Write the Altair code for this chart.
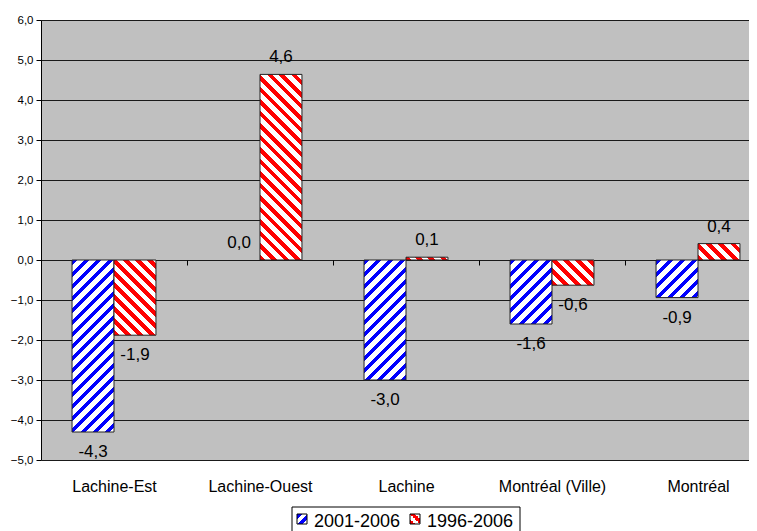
import altair as alt
import pandas as pd

categories = ["Lachine-Est", "Lachine-Ouest", "Lachine", "Montréal (Ville)", "Montréal"]
series = ["2001-2006", "1996-2006"]
values_2001_2006 = [-4.3, 0.0, -3.0, -1.6, -0.94]
values_1996_2006 = [-1.88, 4.64, 0.07, -0.63, 0.41]
y_ticks = [-5, -4, -3, -2, -1, 0, 1, 2, 3, 4, 5, 6]
series_colors = ["#0000FF", "#FF0000"]

# geometry (pixels)
PLOT_W, PLOT_H = 708, 440
X_RANGE = 730
Y_MIN, Y_MAX = -5, 6
PX_PER_UNIT = PLOT_H / (Y_MAX - Y_MIN)
OFF_PAD = 0.74
BAR_W = (X_RANGE / len(categories)) / (2 + 2 * OFF_PAD)

rows = []
for i, c in enumerate(categories):
    for s, vals in zip(series, [values_2001_2006, values_1996_2006]):
        v = vals[i]
        rows.append({"cat": c, "series": s, "v": v,
                     "label": f"{v:.1f}".replace(".", ",")})
df = pd.DataFrame(rows)


def stripes(color, w, h, up, period=12.0, frac=0.45):
    L = w + h
    n = L / period
    a = L * w / (w * w + h * h)
    b = L * h / (w * w + h * h)
    stops = []
    k = 0
    while k < n:
        o1 = round(k / n, 5)
        o2 = round(min((k + frac) / n, 1.0), 5)
        o3 = round(min((k + 1) / n, 1.0), 5)
        stops += [alt.GradientStop(offset=o1, color=color),
                  alt.GradientStop(offset=o2, color=color),
                  alt.GradientStop(offset=o2, color="white"),
                  alt.GradientStop(offset=o3, color="white")]
        k += 1
    if up:
        x1, y1, x2, y2 = 0, 0, a, b
    else:
        x1, y1, x2, y2 = 0, 1, a, 1 - b
    return alt.Gradient(gradient="linear", stops=stops,
                        x1=x1, y1=y1, x2=x2, y2=y2)


X = alt.X("cat:N", sort=categories,
          scale=alt.Scale(domain=categories, range=[0, X_RANGE],
                          paddingInner=0, paddingOuter=0),
          axis=alt.Axis(title=None, labelAngle=0, offset=-200, domain=False,
                        ticks=True, tickBand="extent", tickSize=5,
                        tickColor="black", labelPadding=213, labelFontSize=16,
                        labelColor="black", labelFont="Liberation Sans",
                        grid=False))
XO = alt.XOffset("series:N", sort=series,
                 scale=alt.Scale(domain=series, paddingInner=0,
                                 paddingOuter=OFF_PAD))
Y = alt.Y("v:Q",
          scale=alt.Scale(domain=[Y_MIN, Y_MAX], nice=False, zero=False),
          axis=alt.Axis(title=None, values=y_ticks,
                        labelExpr="replace(format(datum.value, '.1f'), '.', ',')",
                        grid=True, gridColor="#1a1a1a", gridWidth=1,
                        domain=True, domainColor="black", tickColor="black",
                        tickSize=5, labelPadding=3, labelFontSize=11.5,
                        labelColor="black", labelFont="Liberation Sans"))

base = alt.Chart(df)
layers = []
for i, c in enumerate(categories):
    for si, s in enumerate(series):
        v = [values_2001_2006, values_1996_2006][si][i]
        if v == 0:
            continue
        h = abs(v) * PX_PER_UNIT
        grad = stripes(series_colors[si], BAR_W, h, up=(si == 0))
        layers.append(
            base.transform_filter(
                (alt.datum.cat == c) & (alt.datum.series == s)
            ).mark_bar(fill=grad, stroke="#222222", strokeWidth=1)
            .encode(x=X, xOffset=XO, y=Y, y2=alt.datum(0))
        )

text_pos = base.transform_filter("datum.v >= 0").mark_text(
    baseline="alphabetic", dy=-12, fontSize=17, font="Liberation Sans",
    color="black").encode(x=X, xOffset=XO, y=Y, text="label:N")
text_neg = base.transform_filter("datum.v < 0").mark_text(
    baseline="top", dy=12, fontSize=17, font="Liberation Sans",
    color="black").encode(x=X, xOffset=XO, y=Y, text="label:N")
layers += [text_pos, text_neg]

# legend drawn below the plot
dummy = alt.Chart(pd.DataFrame({"d": [0]}))
legend_box = dummy.mark_rect(fill="white", stroke="black", strokeWidth=1).encode(
    x=alt.value(251), x2=alt.value(479), y=alt.value(487), y2=alt.value(522))
layers.append(legend_box)
sym_x = [256, 369]
txt_x = [273, 386]
for si, s in enumerate(series):
    layers.append(dummy.mark_rect(
        fill=stripes(series_colors[si], 10, 10, up=(si == 0), period=10, frac=0.5),
        stroke="black", strokeWidth=1).encode(
        x=alt.value(sym_x[si]), x2=alt.value(sym_x[si] + 10),
        y=alt.value(494), y2=alt.value(504)))
    layers.append(dummy.mark_text(
        align="left", baseline="alphabetic", fontSize=18,
        font="Liberation Sans", color="black").encode(
        x=alt.value(txt_x[si]), y=alt.value(507), text=alt.value(s)))

chart = alt.layer(*layers).properties(
    width=PLOT_W, height=PLOT_H, autosize="none",
    padding={"left": 33, "top": 12, "right": 0, "bottom": 71},
    background="white",
).configure_view(fill="#C0C0C0", strokeWidth=0)

chart.save("out.html", embed_options={"renderer": "svg", "actions": False})
